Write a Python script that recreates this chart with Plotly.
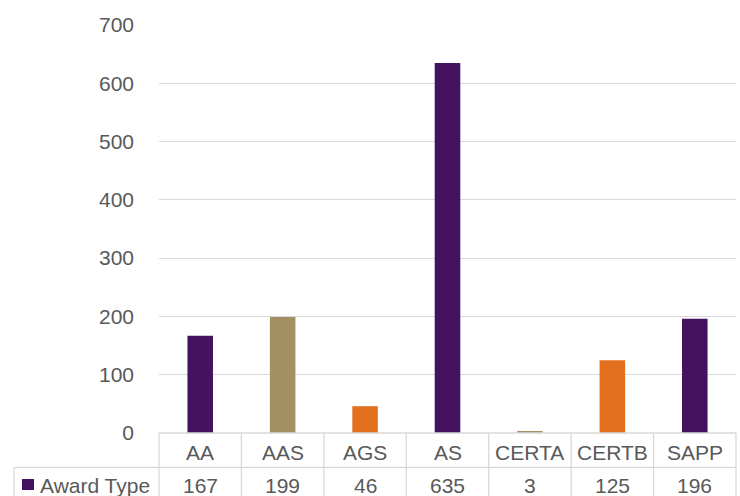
import plotly.graph_objects as go

categories = ["AA", "AAS", "AGS", "AS", "CERTA", "CERTB", "SAPP"]
values = [167, 199, 46, 635, 3, 125, 196]
series_name = "Award Type"
y_ticks = [0, 100, 200, 300, 400, 500, 600, 700]

PURPLE = "#44135F"
KHAKI = "#A38F61"
ORANGE = "#E3701F"
bar_colors = [PURPLE, KHAKI, ORANGE, PURPLE, KHAKI, ORANGE, PURPLE]

TEXT = "#595959"
GRID = "#D9D9D9"
FONT = "Liberation Sans, Arial, sans-serif"
FS = 21

W, H = 740, 496
ML, MR, MT, MB = 159, 4, 25, 63
PW = W - ML - MR
PH = H - MT - MB


def px_x(px):
    return (px - ML) / PW


def px_y(py):
    return (H - MB - py) / PH


fig = go.Figure()
fig.add_trace(go.Bar(
    x=categories, y=values, marker=dict(color=bar_colors, line=dict(width=0)),
    width=0.31, name=series_name, showlegend=False, hoverinfo="x+y"))

shapes = []
n = len(categories)
row_mid = px_y(467.3)
table_bottom = px_y(510)
# top line of table (axis line)
shapes.append(dict(type="line", xref="paper", yref="paper", x0=0, x1=1, y0=0, y1=0,
                   line=dict(color=GRID, width=1.3)))
# row divider
shapes.append(dict(type="line", xref="paper", yref="paper", x0=px_x(14), x1=1,
                   y0=row_mid, y1=row_mid, line=dict(color=GRID, width=1.3)))
# vertical lines
for i in range(n + 1):
    xp = i / n
    shapes.append(dict(type="line", xref="paper", yref="paper", x0=xp, x1=xp,
                       y0=0, y1=table_bottom, line=dict(color=GRID, width=1.3)))
shapes.append(dict(type="line", xref="paper", yref="paper", x0=px_x(14), x1=px_x(14),
                   y0=row_mid, y1=table_bottom, line=dict(color=GRID, width=1.3)))
# legend key
shapes.append(dict(type="rect", xref="paper", yref="paper", x0=px_x(22), x1=px_x(34),
                   y0=px_y(479), y1=px_y(490), fillcolor=PURPLE, line=dict(width=0)))

annotations = []
for c, v in zip(categories, values):
    annotations.append(dict(x=c, xref="x", y=px_y(452), yref="paper", text=c,
                            showarrow=False, xanchor="center", yanchor="middle",
                            font=dict(size=FS, color=TEXT, family=FONT)))
    annotations.append(dict(x=c, xref="x", y=px_y(485), yref="paper", text=str(v),
                            showarrow=False, xanchor="center", yanchor="middle",
                            font=dict(size=FS, color=TEXT, family=FONT)))
annotations.append(dict(x=px_x(38), xref="paper", y=px_y(485), yref="paper",
                        text=series_name, showarrow=False, xanchor="left",
                        yanchor="middle", font=dict(size=FS, color=TEXT, family=FONT)))

fig.update_layout(
    width=W, height=H,
    margin=dict(l=ML, r=MR, t=MT, b=MB, pad=0),
    paper_bgcolor="white", plot_bgcolor="white",
    font=dict(family=FONT, size=FS, color=TEXT),
    shapes=shapes, annotations=annotations,
    bargap=0.69,
    xaxis=dict(type="category", categoryorder="array", categoryarray=categories,
               showticklabels=False, showgrid=False, showline=False, zeroline=False,
               ticks="", range=[-0.5, n - 0.5]),
    yaxis=dict(range=[0, 700], tickvals=y_ticks, ticktext=[str(t) for t in y_ticks],
               showgrid=True, gridcolor=GRID, gridwidth=1.3, zeroline=False,
               showline=False, ticks="", ticklabelstandoff=24,
               tickfont=dict(size=FS, color=TEXT, family=FONT)),
)

fig.write_html(
    "out.html",
    config={"displayModeBar": False},
    post_script="document.body.style.margin='0';document.body.style.padding='0';"
                "document.body.style.overflow='hidden';",
)
